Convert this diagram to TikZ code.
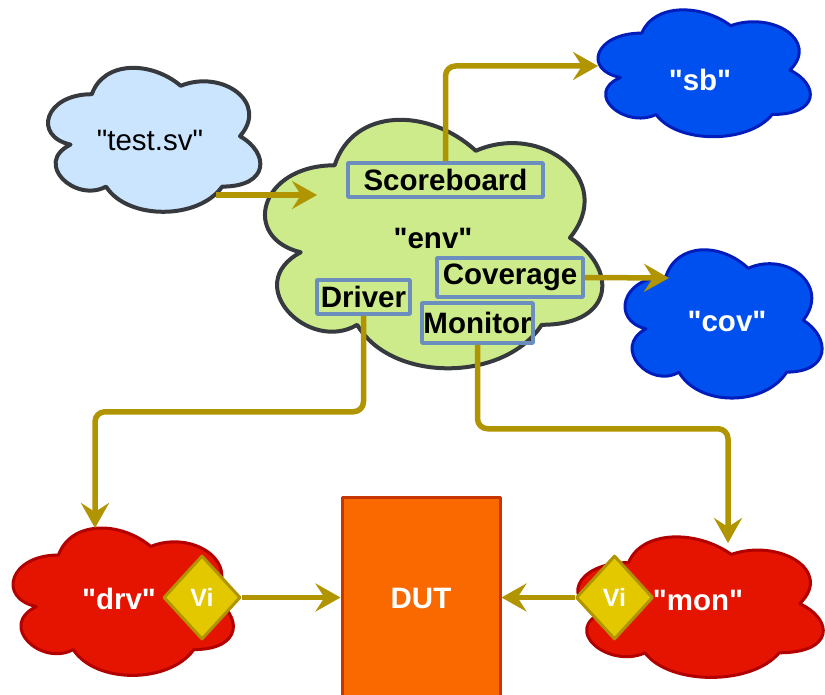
\documentclass[tikz,border=0pt]{standalone}
\usepackage{fontspec}
\setmainfont{Liberation Sans}[Ligatures=TeXOff]
\usetikzlibrary{arrows.meta,shapes.geometric}

\definecolor{edgegold}{HTML}{B09500}
\definecolor{tsvfill}{HTML}{CCE5FF}
\definecolor{darkline}{HTML}{36393D}
\definecolor{envfill}{HTML}{CDEB8B}
\definecolor{bluefill}{HTML}{0050EF}
\definecolor{blueline}{HTML}{001DBC}
\definecolor{redfill}{HTML}{E51400}
\definecolor{redline}{HTML}{B20000}
\definecolor{vifill}{HTML}{E3C800}
\definecolor{dutfill}{HTML}{FA6800}
\definecolor{dutline}{HTML}{C73500}
\definecolor{boxline}{HTML}{6C8EBF}

% cloud outline drawn inside the frame of a holder node: #1 node, #2 width, #3 height, #4 style
\newcommand\dioCloud[4]{%
  \draw[#4, shift={(#1.north west)}, x=#2pt, y=-#3pt]
    (0.25,0.25) .. controls (0.05,0.25) and (0,0.5) .. (0.16,0.55)
    .. controls (0,0.66) and (0.18,0.9) .. (0.31,0.8)
    .. controls (0.4,1) and (0.7,1) .. (0.8,0.8)
    .. controls (1,0.8) and (1,0.6) .. (0.875,0.5)
    .. controls (1,0.3) and (0.8,0.1) .. (0.625,0.2)
    .. controls (0.5,0.05) and (0.3,0.05) .. (0.25,0.25) -- cycle;}

\tikzset{
  holder/.style={inner sep=0pt, outer sep=0pt},
  bigtxt/.style={font=\fontsize{29.5}{32}\selectfont\bfseries},
  plaintxt/.style={font=\fontsize{29.5}{32}\selectfont},
  lightcloud/.style={fill=tsvfill, draw=darkline, line width=4pt},
  greencloud/.style={fill=envfill, draw=darkline, line width=4pt},
  bluecloud/.style={fill=bluefill, draw=blueline, line width=3pt},
  redcloud/.style={fill=redfill, draw=redline, line width=3pt},
  compbox/.style={draw=boxline, line width=3.5pt, inner sep=0pt, bigtxt},
  vibox/.style={diamond, draw=edgegold, fill=vifill, line width=3pt,
    minimum width=77pt, minimum height=84pt, inner sep=0pt, text=white,
    font=\fontsize{25}{27}\selectfont\bfseries},
  dutbox/.style={draw=dutline, fill=dutfill, line width=3pt, inner sep=0pt,
    minimum width=158pt, minimum height=202pt, text=white, bigtxt},
  flow/.style={draw=edgegold, line width=5.5pt, rounded corners=10pt,
    -{Stealth[length=25pt,width=28pt,inset=9pt]}}
}

\begin{document}
\begin{tikzpicture}[x=1pt, y=-1pt, line join=round]
\useasboundingbox (0,0) rectangle (825,695);

% cloud frames
\node[holder, minimum width=237pt, minimum height=168pt] (tsv) at (151.1,136.2) {};
\node[holder, minimum width=376.5pt, minimum height=290pt] (env) at (428.75,237.8) {};
\node[holder, minimum width=237pt, minimum height=148pt] (sb) at (701.1,70.1) {};
\node[holder, minimum width=220pt, minimum height=173pt] (cov) at (720.7,320.2) {};
\node[holder, minimum width=246pt, minimum height=172pt] (drv) at (120,598) {};
\node[holder, minimum width=274pt, minimum height=164pt] (mon) at (697,603.6) {};

\dioCloud{tsv}{237}{168}{lightcloud}
\dioCloud{env}{376.5}{290}{greencloud}
\dioCloud{sb}{237}{148}{bluecloud}
\dioCloud{cov}{220}{173}{bluecloud}
\dioCloud{drv}{246}{172}{redcloud}
\dioCloud{mon}{274}{164}{redcloud}

% cloud captions
\node[plaintxt] (tsvtext) at (150,140) {"test.sv"};
\node[bigtxt] (envtext) at (433,238) {"env"};
\node[bigtxt, text=white] (sbtext) at (700,80) {"sb"};
\node[bigtxt, text=white] (covtext) at (727,321) {"cov"};
\node[bigtxt, text=white] (drvtext) at (119,599) {"drv"};
\node[bigtxt, text=white] (montext) at (698,600) {"mon"};

% design under test
\node[dutbox] (dut) at (421,598) {DUT};

% components inside the environment
\node[compbox, minimum width=195pt, minimum height=34pt] (score) at (445.5,180) {Scoreboard};
\node[compbox, minimum width=146pt, minimum height=39pt] (cover) at (510,277.5) {Coverage};
\node[compbox, minimum width=93pt, minimum height=34pt] (driver) at (363.5,297) {Driver};
\node[compbox, minimum width=111pt, minimum height=40pt] (monitor) at (477.5,323) {Monitor};

% virtual interfaces
\node[vibox] (vidrv) at (202,597.5) {Vi};
\node[vibox] (vimon) at (614.5,597.5) {Vi};

% connector end points on the cloud outlines
\coordinate (tsv-out) at (216,195);
\coordinate (env-in) at (317,195);
\coordinate (sb-in) at (598,66);
\coordinate (cov-in) at (669,278);
\coordinate (drv-in) at (95,528);
\coordinate (mon-in) at (728,543);

% connectors
\draw[flow] (tsv-out) -- (env-in);
\draw[flow] (score.north) |- (sb-in);
\draw[flow] (cover.east) -- (cov-in);
\draw[flow] (driver.south) -- ++(0,96) -| (drv-in);
\draw[flow] (monitor.south) -- ++(0,84) -| (mon-in);
\draw[flow] (vidrv.east) -- (vidrv.east -| dut.west);
\draw[flow] (vimon.west) -- (vimon.west -| dut.east);
\end{tikzpicture}
\end{document}
